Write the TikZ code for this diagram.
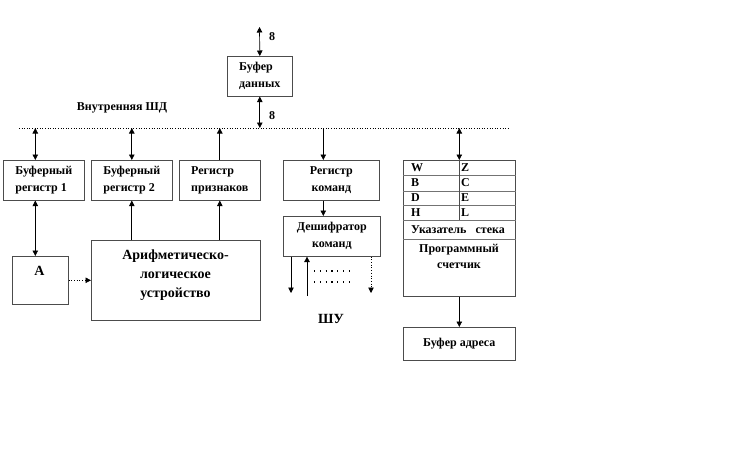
\documentclass[tikz,border=0pt]{standalone}
\usepackage{fontspec}
\setmainfont{Liberation Serif}
\usetikzlibrary{arrows.meta}

\tikzset{
    box/.style={draw=black!70, line width=0.6pt, inner sep=1pt, anchor=north west,
        font=\bfseries\fontsize{12}{17}\selectfont},
    txt/.style={font=\bfseries\fontsize{12}{16}\selectfont, inner sep=0pt},
    big/.style={font=\bfseries\fontsize{14}{19}\selectfont, inner sep=0pt},
    arr/.style={line width=0.7pt, -{Triangle[length=5.5pt,width=5.5pt]}},
    biarr/.style={line width=0.7pt, {Triangle[length=5.5pt,width=5.5pt]}-{Triangle[length=5.5pt,width=5.5pt]}},
    dots/.style={line width=1.2pt, dash pattern=on 1.2pt off 4.6pt},
}

\begin{document}
\begin{tikzpicture}[x=1pt, y=-1pt]
    \useasboundingbox (0,0) rectangle (753,453);

    \coordinate (bus) at (19,128);
    \coordinate (busend) at (510,128);
    \draw[dotted, line width=0.6pt] (bus) -- (busend);
    \node[txt] (busname) at (122,108) {Внутренняя ШД};

    \node[box, minimum width=65, minimum height=40, align=left] (bd) at (227,56) {Буфер\\данных};
    \coordinate (dtop) at (259.5,27);
    \draw[biarr] (dtop) -- (bd.north);
    \draw[biarr] (bd.south) -- (bd.south |- bus);
    \node[txt] (w1) at (272,37) {8};
    \node[txt] (w2) at (272,116) {8};

    \node[box, minimum width=81, minimum height=40, align=left] (r1) at (3,160) {Буферный\\регистр 1};
    \node[box, minimum width=81, minimum height=40, align=left] (r2) at (91,160) {Буферный\\регистр 2};
    \node[box, minimum width=81, minimum height=40, align=left] (rf) at (179,160) {Регистр\\признаков};
    \node[box, minimum width=96, minimum height=40, align=center] (rk) at (283,160) {Регистр\\команд};
    \node[box, minimum width=97, minimum height=40, align=center] (dk) at (283,216) {Дешифратор\\команд};
    \node[box, minimum width=56, minimum height=48] (ra) at (12,256) {};
    \node[big] (ratext) at (39.5,271) {A};
    \node[box, minimum width=169, minimum height=80] (alu) at (91,240) {};
    \node[big, align=center] (alutext) at (175.5,275) {Арифметическо-\\логическое\\устройство};
    \node[box, minimum width=112, minimum height=136] (stk) at (403,160) {};
    \node[box, minimum width=112, minimum height=33] (ba) at (403,327) {Буфер адреса};
    \node[big] (shu) at (331,319) {ШУ};

    \coordinate (c1) at ([xshift=-8.5pt]r1.north);
    \draw[biarr] (c1 |- bus) -- (c1);
    \draw[biarr] (c1 |- r1.south) -- (c1 |- ra.north);
    \draw[biarr] (r2.north |- bus) -- (r2.north);
    \draw[arr] (alu.north -| r2.south) -- (r2.south);
    \draw[arr] (rf.north) -- (rf.north |- bus);
    \draw[arr] (alu.north -| rf.south) -- (rf.south);
    \draw[arr, dotted] (ra.east) -- (alu.west);

    \coordinate (c2) at ([xshift=-8pt]rk.north);
    \draw[arr] (c2 |- bus) -- (c2);
    \draw[arr] (c2 |- rk.south) -- (c2 |- dk.north);
    \coordinate (u1) at (291,293);
    \coordinate (u2) at (307,296);
    \coordinate (u3) at (371,293);
    \draw[arr] (u1 |- dk.south) -- (u1);
    \draw[arr] (u2) -- (u2 |- dk.south);
    \draw[arr, dotted] (u3 |- dk.south) -- (u3);
    \draw[dots] (314,271) -- (354,271);
    \draw[dots] (314,282) -- (354,282);

    \draw[biarr] (stk.north |- bus) -- (stk.north);
    \draw[arr] (stk.south) -- (ba.north);
    \foreach \y in {175,191,205,220,239}
        \draw[black!55, line width=1pt] (stk.west |- 0,\y) -- (stk.east |- 0,\y);
    \draw[black!70, line width=0.6pt] (stk.north) -- (stk.north |- 0,220);
    \foreach \l/\r/\y in {W/Z/168,B/C/183,D/E/198,H/L/213} {
        \node[txt, anchor=west] at (411,\y) {\l};
        \node[txt, anchor=west] at (461,\y) {\r};
    }
    \node[txt] (sp) at (458,230) {Указатель\ \ \ стека};
    \node[txt, align=center] (pc) at (459,256) {Программный\\счетчик};
\end{tikzpicture}
\end{document}
